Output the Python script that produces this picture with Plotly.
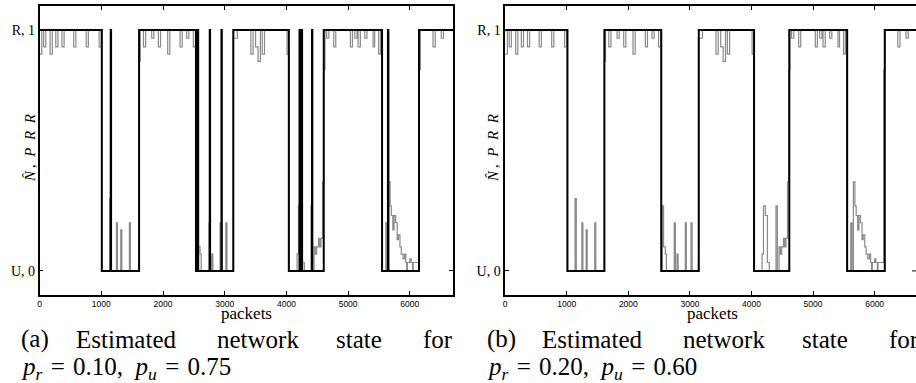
import plotly.graph_objects as go

# ---------------- data ----------------
x_ticks = [0, 1000, 2000, 3000, 4000, 5000, 6000]
y_tickvals = [0, 1]
y_ticktext = ["U, 0", "R, 1"]

# estimated network state (a): step changes (packet index) and state value (1 = R, 0 = U)
state_a_packets = [0, 1008, 1152, 1158, 1612, 2534, 2564, 2570, 2757, 2763, 2947, 2953,
                   3139, 4039, 4212, 4218, 4248, 4254, 4414, 4420, 4605, 5550, 5645, 5653,
                   6149, 6700]
state_a_values = [1, 0, 1, 0, 1, 0, 1, 0, 1, 0, 1, 0,
                  1, 0, 1, 0, 1, 0, 1, 0, 1, 0, 1, 0,
                  1, 1]

# estimated network state (b)
state_b_packets = [0, 1011, 1611, 2535, 3144, 4042, 4614, 5554, 6165, 6672]
state_b_values = [1, 0, 1, 0, 1, 0, 1, 0, 1, 1]

# packet reception ratio (same channel trace in both panels)
prr_packets = [0, 35, 65, 100, 170, 205, 262, 297, 362, 397, 552, 587, 755, 790, 965, 1000,
               1008, 1135, 1155, 1245, 1262, 1315, 1332, 1455, 1472,
               1612, 1630, 1683, 1718, 1817, 1852, 1925, 1960, 2076, 2111, 2276, 2311,
               2384, 2419, 2491, 2526,
               2534, 2550, 2572, 2600, 2618, 2745, 2765, 2790, 2808, 2925, 2942, 3018, 3036,
               3139, 3205, 3424, 3460, 3500, 3540, 3578, 3608, 3645, 4010,
               4039, 4172, 4195, 4225, 4258, 4290, 4398, 4420, 4448, 4470, 4490, 4520,
               4540, 4560, 4585,
               4605, 4625, 4652, 4688, 4767, 4800, 5037, 5070, 5108, 5145, 5162, 5198,
               5270, 5305, 5405, 5430, 5495, 5525,
               5550, 5612, 5632, 5655, 5680, 5700, 5725, 5745, 5770, 5795, 5815, 5840,
               5862, 5890, 5915, 5935, 5950, 5962, 6000, 6020, 6045, 6055, 6120,
               6149, 6170, 6376, 6412, 6510, 6546, 6700]
prr_values = [0.90, 1.0, 0.93, 1.0, 0.90, 1.0, 0.93, 1.0, 0.93, 1.0, 0.93, 1.0, 0.93, 1.0, 0.93, 1.0,
              0.0, 0.30, 0.0, 0.20, 0.0, 0.17, 0.0, 0.20, 0.0,
              0.87, 1.0, 0.93, 1.0, 0.966, 1.0, 0.93, 1.0, 0.90, 1.0, 0.93, 1.0,
              0.966, 1.0, 0.93, 1.0,
              0.0, 0.27, 0.10, 0.07, 0.0, 0.20, 0.0, 0.07, 0.0, 0.20, 0.0, 0.20, 0.0,
              0.966, 1.0, 0.90, 1.0, 0.93, 0.87, 1.0, 0.90, 1.0, 0.90,
              0.0, 0.07, 0.27, 0.23, 0.035, 0.0, 0.27, 0.0, 0.10, 0.07, 0.10, 0.135,
              0.10, 0.135, 0.37,
              0.835, 1.0, 0.966, 1.0, 0.93, 1.0, 0.93, 1.0, 0.966, 1.0, 0.93, 1.0,
              0.966, 1.0, 0.93, 1.0, 0.90, 1.0,
              0.0, 0.20, 0.0, 0.37, 0.27, 0.23, 0.17, 0.23, 0.20, 0.13, 0.15, 0.10,
              0.07, 0.05, 0.07, 0.035, 0.0, 0.035, 0.05, 0.035, 0.0, 0.035, 0.035,
              0.835, 1.0, 0.93, 1.0, 0.966, 1.0, 1.0]

caption_a_words = ["(a)", "Estimated", "network", "state", "for"]
caption_b_words = ["(b)", "Estimated", "network", "state", "for"]
caption_a_math = ("<i>p</i><sub><i>r</i></sub>\u2004=\u20040.10,\u2002"
                  "<i>p</i><sub><i>u</i></sub>\u2004=\u20040.75")
caption_b_math = ("<i>p</i><sub><i>r</i></sub>\u2004=\u20040.20,\u2002"
                  "<i>p</i><sub><i>u</i></sub>\u2004=\u20040.60")
x_label = "packets"
y_label = "<i>N\u0302</i>\u2009,\u2002<i>P\u2002R\u2002R</i>"

# ---------------- layout helpers ----------------
W, H = 916, 383
SERIF = "Liberation Serif"
SANS = "Liberation Sans"
GRAY = "#8a8a8a"

def px_x(p):
    return p / W

def px_y(p):
    return (H - p) / H

fig = go.Figure()

for xa, ya, sp, sv in [("x", "y", state_a_packets, state_a_values),
                       ("x2", "y2", state_b_packets, state_b_values)]:
    fig.add_trace(go.Scatter(x=prr_packets, y=prr_values, mode="lines",
                             line=dict(color=GRAY, width=1.2, shape="hv"),
                             xaxis=xa, yaxis=ya, showlegend=False, hoverinfo="skip"))
    fig.add_trace(go.Scatter(x=sp, y=sv, mode="lines",
                             line=dict(color="black", width=2, shape="hv"),
                             xaxis=xa, yaxis=ya, showlegend=False, hoverinfo="skip"))

ydom = [px_y(295), px_y(6)]
common_x = dict(tickvals=x_ticks, ticktext=[str(v) for v in x_ticks], ticks="inside",
                ticklen=4, tickwidth=1, tickcolor="black", showline=True, linewidth=1.5,
                linecolor="black", mirror="ticks", showgrid=False, zeroline=False,
                tickfont=dict(family=SANS, size=8.5, color="black"))
common_y = dict(tickvals=y_tickvals, ticktext=y_ticktext, ticks="inside", ticklen=4,
                tickwidth=1, tickcolor="black", showline=True, linewidth=1.5,
                linecolor="black", showgrid=False, zeroline=False, range=[-0.1, 1.1],
                domain=ydom, tickfont=dict(family=SERIF, size=14, color="black"))

fig.update_layout(
    width=W, height=H, margin=dict(l=0, r=0, t=0, b=0),
    paper_bgcolor="white", plot_bgcolor="white",
    xaxis=dict(domain=[px_x(37.7), px_x(452)], range=[0, 6700], anchor="y", **common_x),
    yaxis=dict(anchor="x", mirror="ticks", **common_y),
    xaxis2=dict(domain=[px_x(504.3), 1.0], range=[0, 6672], anchor="y2", **common_x),
    yaxis2=dict(anchor="x2", mirror=False, **common_y),
)

# right-side tick of panel (b) at U level (the panel's right frame is cut off)
fig.add_shape(type="line", xref="paper", yref="y2", x0=px_x(912), x1=1.0, y0=0, y1=0,
              line=dict(color="black", width=1))

ann = []
# axis titles
for cx in [244.8, 711.6]:
    ann.append(dict(text=x_label, x=px_x(cx), y=px_y(313), xref="paper", yref="paper",
                    xanchor="center", yanchor="middle", showarrow=False,
                    font=dict(family=SERIF, size=17, color="black")))
for cx in [28, 492]:
    ann.append(dict(text=y_label, x=px_x(cx), y=px_y(148), xref="paper", yref="paper",
                    xanchor="center", yanchor="middle", showarrow=False, textangle=-90,
                    font=dict(family=SERIF, size=15, color="black")))

# captions (justified first line -> word positions)
word_x_a = [17, 72, 213, 333, 420]
for words, off in [(caption_a_words, 0), (caption_b_words, 467)]:
    for w, wx in zip(words, word_x_a):
        ann.append(dict(text=w, x=px_x(wx + off), y=px_y(339), xref="paper", yref="paper",
                        xanchor="left", yanchor="middle", showarrow=False,
                        font=dict(family=SERIF, size=25, color="black")))
for txt, lx in [(caption_a_math, 17), (caption_b_math, 484)]:
    ann.append(dict(text=txt, x=px_x(lx), y=px_y(368), xref="paper", yref="paper",
                    xanchor="left", yanchor="middle", showarrow=False,
                    font=dict(family=SERIF, size=25, color="black")))

fig.update_layout(annotations=ann)
fig.write_html(
    "out.html",
    config={"displayModeBar": False},
    post_script="document.body.style.margin='0';document.documentElement.style.overflow='hidden';",
)
